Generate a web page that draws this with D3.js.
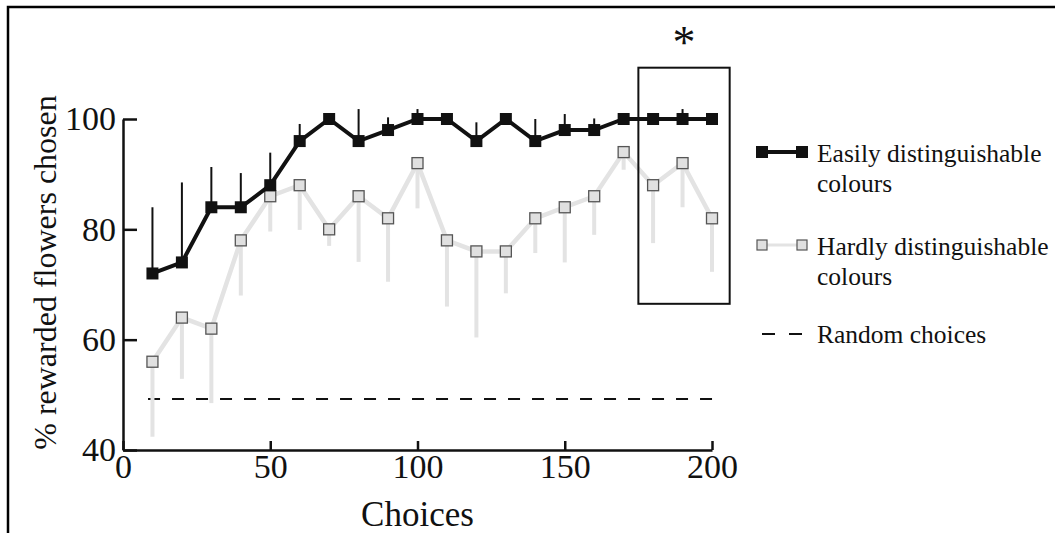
<!DOCTYPE html>
<html>
<head>
<meta charset="utf-8">
<script src="https://cdn.jsdelivr.net/npm/d3@7"></script>
<style>
  body { margin: 0; background: #fff; }
  svg { display: block; font-family: "Liberation Serif", "Times New Roman", serif; }
</style>
</head>
<body>
<svg id="chart" width="1055" height="533"></svg>
<script>
// Data
var choices = [10, 20, 30, 40, 50, 60, 70, 80, 90, 100, 110, 120, 130, 140, 150, 160, 170, 180, 190, 200];
var easyMean = [72, 74, 84, 84, 88, 96, 100, 96, 98, 100, 100, 96, 100, 96, 98, 98, 100, 100, 100, 100];
var easyUpper = [84, 88.5, 91.3, 90.2, 93.9, 99.1, 100, 101.8, 100.3, 101.8, 100, 99.4, 100, 100, 100.9, 100.1, 100, 100, 101.8, 100];
var hardMean = [56, 64, 62, 78, 86, 88, 80, 86, 82, 92, 78, 76, 76, 82, 84, 86, 94, 88, 92, 82];
var hardLower = [42.4, 52.9, 48.5, 68, 79.6, 79.9, 77, 74.1, 70.5, 83.8, 66, 60.4, 68.4, 75.7, 74, 79, 90.8, 77.5, 84, 72.3];
var randomLevel = 49.25;
var xTicks = [0, 50, 100, 150, 200];
var yTicks = [40, 60, 80, 100];
var boxX = [175, 206];
var boxY = [66.5, 109.3];

var svg = d3.select('#chart');

var x = d3.scaleLinear().domain([0, 200]).range([123, 712]);
var y = d3.scaleLinear().domain([40, 100]).range([450, 119]);

var GRAY = '#e3e3e3';

// Outer frame (top and left edges)
svg.append('path')
    .attr('d', 'M8,533 L8,7 L1055,7')
    .style('fill', 'none')
    .style('stroke', '#000')
    .style('stroke-width', 2.5);

// Random choices line
svg.append('line')
    .attr('x1', x(8.5)).attr('x2', x(202))
    .attr('y1', y(randomLevel)).attr('y2', y(randomLevel))
    .style('stroke', '#111')
    .style('stroke-width', 2)
    .style('stroke-dasharray', '12,12');

// Hardly distinguishable: error bars, line, markers
var hard = choices.map(function(c, i) { return { x: c, y: hardMean[i], lo: hardLower[i] }; });
svg.append('g').selectAll('line')
    .data(hard)
    .enter().append('line')
    .attr('x1', function(d) { return x(d.x); })
    .attr('x2', function(d) { return x(d.x); })
    .attr('y1', function(d) { return y(d.y); })
    .attr('y2', function(d) { return y(d.lo); })
    .style('stroke', GRAY)
    .style('stroke-width', 4);

var line = d3.line()
    .x(function(d) { return x(d.x); })
    .y(function(d) { return y(d.y); });

svg.append('path')
    .datum(hard)
    .attr('d', line)
    .style('fill', 'none')
    .style('stroke', GRAY)
    .style('stroke-width', 4.5);

svg.append('g').selectAll('rect')
    .data(hard)
    .enter().append('rect')
    .attr('x', function(d) { return x(d.x) - 5.5; })
    .attr('y', function(d) { return y(d.y) - 5.5; })
    .attr('width', 11).attr('height', 11)
    .style('fill', '#e0e0e0')
    .style('stroke', '#555')
    .style('stroke-width', 1.3);

// Easily distinguishable: error bars, line, markers
var easy = choices.map(function(c, i) { return { x: c, y: easyMean[i], hi: easyUpper[i] }; });
svg.append('g').selectAll('line')
    .data(easy)
    .enter().append('line')
    .attr('x1', function(d) { return x(d.x); })
    .attr('x2', function(d) { return x(d.x); })
    .attr('y1', function(d) { return y(d.y); })
    .attr('y2', function(d) { return y(d.hi); })
    .style('stroke', '#111')
    .style('stroke-width', 2);

svg.append('path')
    .datum(easy)
    .attr('d', line)
    .style('fill', 'none')
    .style('stroke', '#111')
    .style('stroke-width', 4);

svg.append('g').selectAll('rect')
    .data(easy)
    .enter().append('rect')
    .attr('x', function(d) { return x(d.x) - 6; })
    .attr('y', function(d) { return y(d.y) - 6; })
    .attr('width', 12).attr('height', 12)
    .style('fill', '#111');

// Axes
var xAxis = d3.axisBottom(x).tickValues(xTicks).tickSizeInner(-9).tickSizeOuter(0).tickPadding(4);
var gx = svg.append('g')
    .attr('transform', 'translate(0,' + y(40) + ')')
    .call(xAxis);
gx.selectAll('.tick text')
    .style('font-size', '34px')
    .style('font-family', '"Liberation Serif", serif')
    .attr('fill', '#111');

var yAxis = d3.axisLeft(y).tickValues(yTicks).tickSizeInner(-14).tickSizeOuter(0).tickPadding(7);
var gy = svg.append('g')
    .attr('transform', 'translate(' + x(0) + ',0)')
    .call(yAxis);
gy.selectAll('.tick text')
    .style('font-size', '34px')
    .style('font-family', '"Liberation Serif", serif')
    .attr('fill', '#111');

[gx, gy].forEach(function(g) {
    g.select('.domain').style('stroke', '#111').style('stroke-width', 2.5);
    g.selectAll('.tick line').style('stroke', '#111').style('stroke-width', 2.5);
});

// Axis titles
svg.append('text')
    .attr('x', (x(0) + x(200)) / 2)
    .attr('y', 526)
    .attr('text-anchor', 'middle')
    .style('font-size', '35px')
    .attr('fill', '#111')
    .text('Choices');

svg.append('text')
    .attr('transform', 'translate(56,' + ((y(40) + y(100)) / 2 - 12) + ') rotate(-90)')
    .attr('text-anchor', 'middle')
    .style('font-size', '32px')
    .attr('fill', '#111')
    .text('% rewarded flowers chosen');

// Highlight box and asterisk
svg.append('rect')
    .attr('x', x(boxX[0]))
    .attr('y', y(boxY[1]))
    .attr('width', x(boxX[1]) - x(boxX[0]))
    .attr('height', y(boxY[0]) - y(boxY[1]))
    .style('fill', 'none')
    .style('stroke', '#111')
    .style('stroke-width', 2);

svg.append('text')
    .attr('x', (x(boxX[0]) + x(boxX[1])) / 2)
    .attr('y', 58)
    .attr('text-anchor', 'middle')
    .style('font-size', '46px')
    .attr('fill', '#111')
    .text('*');

// Legend
var legend = svg.append('g').attr('transform', 'translate(762,0)');

legend.append('line')
    .attr('x1', 0).attr('x2', 40).attr('y1', 152).attr('y2', 152)
    .style('stroke', '#111').style('stroke-width', 4);
legend.selectAll('rect.easy')
    .data([0, 40])
    .enter().append('rect')
    .attr('class', 'easy')
    .attr('x', function(d) { return d - 6; }).attr('y', 146)
    .attr('width', 12).attr('height', 12)
    .style('fill', '#111');

legend.append('line')
    .attr('x1', 0).attr('x2', 40).attr('y1', 245).attr('y2', 245)
    .style('stroke', GRAY).style('stroke-width', 3);
legend.selectAll('rect.hard')
    .data([0, 40])
    .enter().append('rect')
    .attr('class', 'hard')
    .attr('x', function(d) { return d - 5; }).attr('y', 240)
    .attr('width', 10).attr('height', 10)
    .style('fill', '#e0e0e0')
    .style('stroke', '#555').style('stroke-width', 1.2);

legend.append('line')
    .attr('x1', 0).attr('x2', 40).attr('y1', 334).attr('y2', 334)
    .style('stroke', '#111').style('stroke-width', 2)
    .style('stroke-dasharray', '13,14');

var legendText = [
    { y: 162, t: 'Easily distinguishable' },
    { y: 192, t: 'colours' },
    { y: 255, t: 'Hardly distinguishable' },
    { y: 285, t: 'colours' },
    { y: 343, t: 'Random choices' }
];
legend.selectAll('text')
    .data(legendText)
    .enter().append('text')
    .attr('x', 55)
    .attr('y', function(d) { return d.y; })
    .style('font-size', '25.5px')
    .attr('fill', '#111')
    .text(function(d) { return d.t; });
</script>
</body>
</html>
